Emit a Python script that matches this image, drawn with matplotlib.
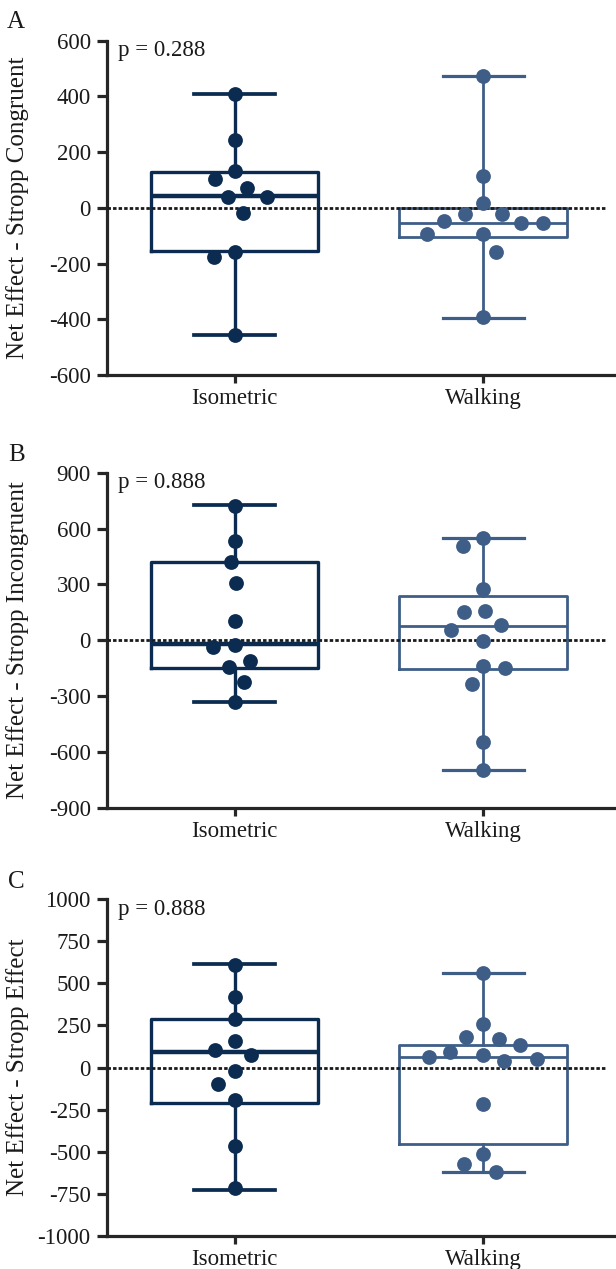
import numpy as np
import matplotlib
matplotlib.use("Agg")
import matplotlib.pyplot as plt

# ---------------- data ----------------
groups = ["Isometric", "Walking"]
panel_letters = ["A", "B", "C"]
y_labels = ["Net Effect - Stropp Congruent",
            "Net Effect - Stropp Incongruent",
            "Net Effect - Stropp Effect"]
p_texts = ["p = 0.288", "p = 0.888", "p = 0.888"]
y_ticks_A = [-600, -400, -200, 0, 200, 400, 600]
y_ticks_B = [-900, -600, -300, 0, 300, 600, 900]
y_ticks_C = [-1000, -750, -500, -250, 0, 250, 500, 750, 1000]

A_iso = [409, 242, 134, 102, 71, 38, 38, -18, -158, -176, -458]
A_walk = [474, 114, 18, -22, -22, -46, -56, -56, -95, -95, -158, -391]
B_iso = [723, 533, 419, 306, 103, -26, -35, -110, -142, -223, -334]
B_walk = [548, 508, 274, 159, 150, 80, 55, -4, -137, -151, -237, -545, -697]
C_iso = [611, 419, 287, 159, 104, 74, -19, -100, -193, -465, -717]
C_walk = [560, 259, 180, 171, 132, 94, 76, 61, 51, 39, -219, -516, -576, -620]

# box statistics: min, Q1, median, Q3, max
A_iso_box = [-458, -156, 42, 129, 409]
A_walk_box = [-394, -104, -54, 0, 474]
B_iso_box = [-334, -148, -20, 419, 725]
B_walk_box = [-697, -156, 76, 239, 548]
C_iso_box = [-728, -213, 90, 287, 614]
C_walk_box = [-621, -457, 62, 132, 561]

# ---------------- style ----------------
plt.rcParams['font.family'] = ['Liberation Serif', 'DejaVu Serif']
iso_color = "#0b2c50"
walk_color = "#3e5e88"
axis_color = "#262626"

fig = plt.figure(figsize=(6.16, 12.69), dpi=100)
W, H = 616.0, 1269.0
left_px = 106.7
panel_px = [(40.7, 375.0), (472.7, 807.7), (899.3, 1235.7)]
letter_base_px = [(7, 28), (8, 460.7), (8, 888.5)]

panels = [
    (A_iso, A_walk, A_iso_box, A_walk_box, y_ticks_A),
    (B_iso, B_walk, B_iso_box, B_walk_box, y_ticks_B),
    (C_iso, C_walk, C_iso_box, C_walk_box, y_ticks_C),
]

DIAM_PX = 14.8
MS = DIAM_PX * 72 / 100.0


def swarm_x(ax, xc, ys, diam_px, sep=1.45):
    ys = np.asarray(ys, float)
    pts = ax.transData.transform(np.column_stack([np.full(len(ys), xc), ys]))
    ypx = pts[:, 1]
    x0 = pts[0, 0]
    order = np.argsort(-ypx)
    placed = []
    offs = np.zeros(len(ys))
    dmin = sep * diam_px
    flip = -1
    for i in order:
        k = 0
        chosen = None
        while chosen is None:
            cands = [0.0] if k == 0 else [flip * k * 0.5, -flip * k * 0.5]
            for c in cands:
                if all((c - px) ** 2 + (ypx[i] - py) ** 2 >= dmin ** 2 for px, py in placed):
                    chosen = c
                    break
            k += 1
        if chosen != 0:
            flip = -np.sign(chosen)
        placed.append((chosen, ypx[i]))
        offs[i] = chosen
    xs = ax.transData.inverted().transform(np.column_stack([x0 + offs, ypx]))[:, 0]
    return xs


for pi, (iso, walk, iso_box, walk_box, yt) in enumerate(panels):
    top, bot = panel_px[pi]
    ax = fig.add_axes([left_px / W, 1 - bot / H, 1 - left_px / W, (bot - top) / H])
    ax.set_xlim(-0.514, 1.534)
    ax.set_ylim(yt[0], yt[-1])

    for gi, (vals, box, col) in enumerate([(iso, iso_box, iso_color), (walk, walk_box, walk_color)]):
        lw = 2.4 if gi == 0 else 2.0
        mlw = 3.2 if gi == 0 else 2.0
        stats = [dict(whislo=box[0], q1=box[1], med=box[2], q3=box[3], whishi=box[4], fliers=[])]
        ax.bxp(stats, positions=[gi], widths=0.675, capwidths=0.325, showfliers=False,
               manage_ticks=False,
               boxprops=dict(color=col, linewidth=lw),
               whiskerprops=dict(color=col, linewidth=lw),
               capprops=dict(color=col, linewidth=lw + 0.3),
               medianprops=dict(color=col, linewidth=mlw, solid_capstyle='butt'))

    ax.hlines(0, -0.514, 1.49, colors="#1a1a1a", linestyles=(0, (1.25, 0.75)), linewidth=2.0, zorder=3)

    for gi, (vals, col) in enumerate([(iso, iso_color), (walk, walk_color)]):
        xs = swarm_x(ax, gi, vals, DIAM_PX)
        ax.plot(xs, vals, 'o', ms=MS, color=col, mec='none', zorder=5, clip_on=False)

    ax.set_yticks(yt)
    ax.set_yticklabels([str(v) for v in yt])
    ax.set_xticks([0, 1])
    ax.set_xticklabels(groups)
    for s in ['top', 'right']:
        ax.spines[s].set_visible(False)
    for s in ['left', 'bottom']:
        ax.spines[s].set_linewidth(2.3)
        ax.spines[s].set_color(axis_color)
    ax.tick_params(axis='both', which='major', width=2.3, color=axis_color,
                   labelsize=16.5, labelcolor="#1a1a1a")
    ax.tick_params(axis='y', length=7, pad=4.5)
    ax.tick_params(axis='x', length=6, pad=3.5)

    ax.set_ylabel(y_labels[pi], fontsize=18, color="#1a1a1a")
    ax.yaxis.set_label_coords(-0.1516, 0.5)

    ax.text(0.022, 0.9537, p_texts[pi], transform=ax.transAxes, fontsize=16.5,
            va='baseline', ha='left', color="#1a1a1a")

    lx, ly = letter_base_px[pi]
    fig.text(lx / W, 1 - ly / H, panel_letters[pi], fontsize=18, va='baseline',
             ha='left', color="#1a1a1a")

fig.savefig("out.png", dpi=100)
